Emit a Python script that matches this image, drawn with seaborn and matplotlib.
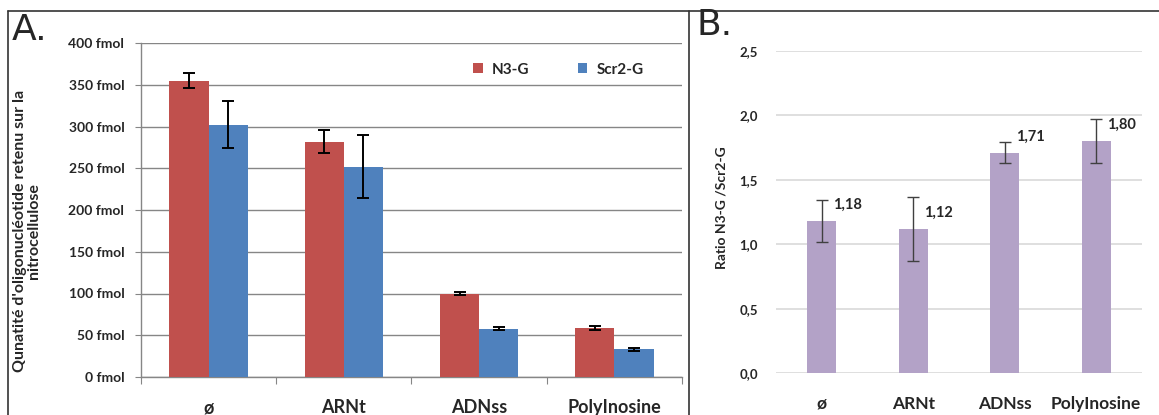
import matplotlib
matplotlib.use("Agg")
import matplotlib.pyplot as plt
from matplotlib.lines import Line2D
import pandas as pd
import seaborn as sns

categories = ["ø", "ARNt", "ADNss", "PolyInosine"]
probes = ["N3-G", "Scr2-G"]
n3g = [355, 282, 100, 59]
n3g_err = [9, 13.5, 2, 2.5]
scr2g = [302, 252, 58, 33]
scr2g_err = [28, 38, 2, 1.5]
ratio = [1.18, 1.12, 1.71, 1.80]
ratio_err = [0.16, 0.25, 0.08, 0.17]
ratio_labels = ["1,18", "1,12", "1,71", "1,80"]
yticks_a = [0, 50, 100, 150, 200, 250, 300, 350, 400]
yticks_b = [0.0, 0.5, 1.0, 1.5, 2.0, 2.5]

red = "#C0504D"
blue = "#4F81BD"
purple = "#B3A2C7"

sns.set_style("white")
plt.rcParams["font.family"] = ["Lato", "DejaVu Sans"]
plt.rcParams["font.weight"] = "bold"

W, H = 1159, 415
fig = plt.figure(figsize=(W / 100, H / 100), dpi=100)


def box(x0, y_top, x1, y_bot):
    return [x0 / W, 1 - y_bot / H, (x1 - x0) / W, (y_bot - y_top) / H]


# ---- panel A
axA = fig.add_axes(box(141, 43, 682, 377))
df = pd.DataFrame({
    "substrat": categories * 2,
    "sonde": [probes[0]] * 4 + [probes[1]] * 4,
    "qte": n3g + scr2g,
})
sns.barplot(data=df, x="substrat", y="qte", hue="sonde", palette=[red, blue],
            width=0.58, saturation=1, linewidth=0, ax=axA, zorder=3)
for cont, err in zip(axA.containers, [n3g_err, scr2g_err]):
    xs = [b.get_x() + b.get_width() / 2 for b in cont]
    ys = [b.get_height() for b in cont]
    axA.errorbar(xs, ys, yerr=err, fmt="none", ecolor="black", elinewidth=1.4,
                 capsize=4, capthick=1.4, zorder=4)

axA.set_ylim(0, 400)
axA.set_xlim(-0.5, 3.5)
axA.set_yticks(yticks_a)
axA.set_yticklabels([f"{v} fmol" for v in yticks_a], fontsize=10, fontweight="bold")
axA.set_xticks([-0.5, 0.5, 1.5, 2.5, 3.5])
axA.set_xticklabels([])
axA.set_xticks(range(4), minor=True)
axA.set_xticklabels(categories, minor=True, fontsize=13, fontweight="bold")
axA.tick_params(axis="x", which="minor", length=0, pad=16)
axA.tick_params(axis="x", which="major", length=5, color="#868686", direction="out", bottom=True)
axA.tick_params(axis="y", length=4, color="#868686", direction="out", pad=8, left=True)
axA.grid(axis="y", color="#868686", lw=1, zorder=0)
for s in ["top", "right"]:
    axA.spines[s].set_visible(False)
for s in ["left", "bottom"]:
    axA.spines[s].set_color("#868686")
    axA.spines[s].set_linewidth(1)
axA.set_xlabel("")
axA.set_ylabel("")
axA.legend(ncol=2, frameon=False, handlelength=0.6, handleheight=0.6,
           columnspacing=3.2, handletextpad=0.6,
           loc="center left", bbox_to_anchor=(0.589, 0.92), prop={"weight": "bold", "size": 11})

fig.text(27 / W, 1 - 231 / H, "Qunatité d'oligonucléotide retenu sur la\nnitrocellulose",
         rotation=90, ha="center", va="center", fontsize=11.5, fontweight="bold",
         multialignment="center", linespacing=1.05)

# ---- panel B
axB = fig.add_axes(box(776, 50.7, 1142, 373.3))
sns.barplot(x=categories, y=ratio, color=purple, width=0.32, saturation=1, linewidth=0,
            ax=axB, zorder=3)
bars = axB.containers[0]
xs = [b.get_x() + b.get_width() / 2 for b in bars]
axB.errorbar(xs, ratio, yerr=ratio_err, fmt="none", ecolor="#404040", elinewidth=1,
             capsize=4, capthick=1, zorder=4)
for x, v, lab in zip(xs, ratio, ratio_labels):
    axB.annotate(lab, (x, v), xytext=(11, 16), textcoords="offset pixels",
                 ha="left", va="center", fontsize=10.5, fontweight="bold")
axB.set_ylim(0, 2.5)
axB.set_xlim(-0.5, 3.5)
axB.set_yticks(yticks_b)
axB.set_yticklabels([f"{v:.1f}".replace(".", ",") for v in yticks_b], fontsize=9.5, fontweight="bold")
axB.tick_params(axis="y", length=0, pad=13)
axB.tick_params(axis="x", length=0, pad=16, labelsize=12.5)
for lab in axB.get_xticklabels():
    lab.set_fontweight("bold")
axB.grid(axis="y", color="#D9D9D9", lw=1.2, zorder=0)
sns.despine(ax=axB, left=True, bottom=True)
fig.text(722 / W, 1 - 208 / H, "Ratio N3-G /Scr2-G", rotation=90, ha="center", va="center",
         fontsize=10, fontweight="bold")

# ---- frame and panel letters
fig.add_artist(Line2D([8 / W, 1], [1 - 11 / H, 1 - 11 / H], color="#333333", lw=1.2))
fig.add_artist(Line2D([8 / W, 8 / W], [0, 1 - 11 / H], color="#333333", lw=1.2))
fig.add_artist(Line2D([689 / W, 689 / W], [0, 1 - 11 / H], color="#333333", lw=1.2))
fig.text(12 / W, 1 - 30 / H, "A.", fontsize=26, fontweight="medium", va="center", ha="left",
         family=["DejaVu Sans"])
fig.text(696 / W, 1 - 25 / H, "B.", fontsize=26, fontweight="medium", va="center", ha="left",
         family=["DejaVu Sans"])

fig.savefig("out.png", dpi=100)
